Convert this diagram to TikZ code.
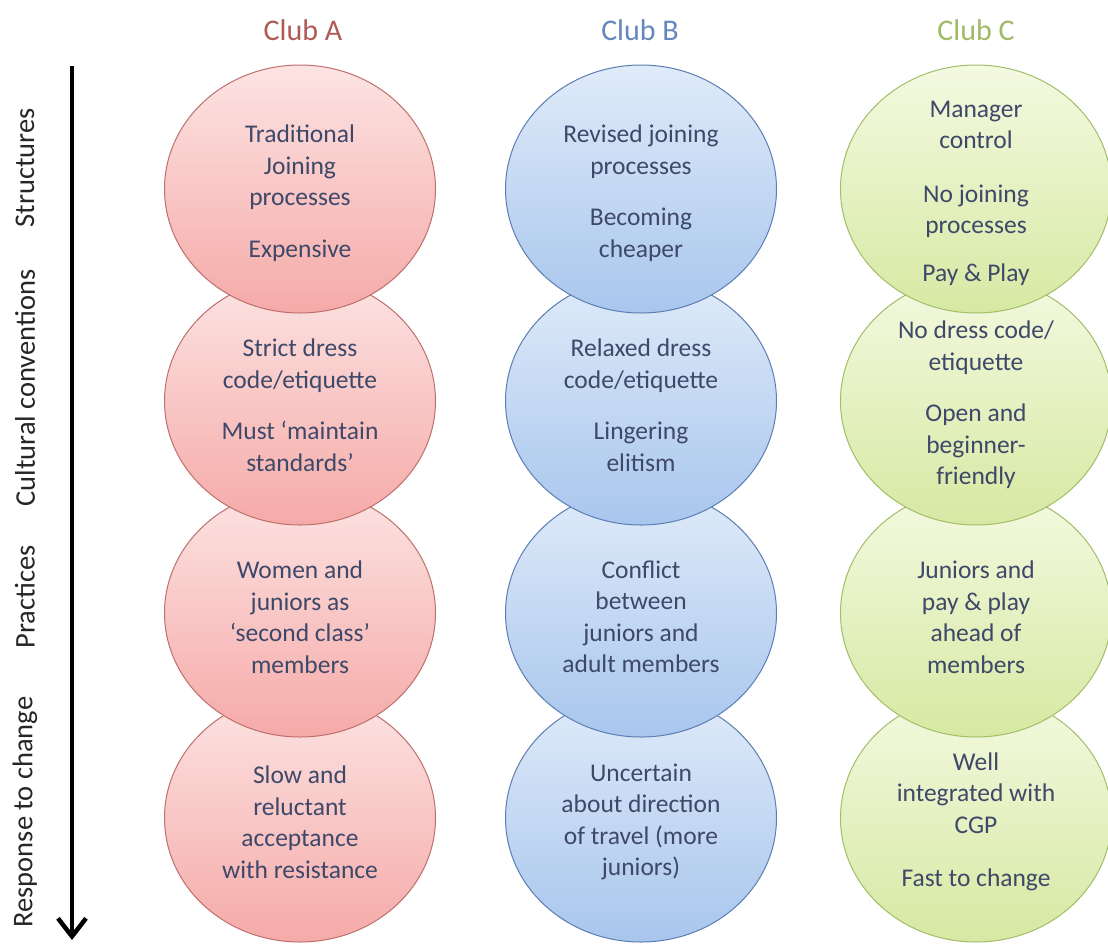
\documentclass[tikz,border=0pt]{standalone}
\usepackage{fontspec}
\setmainfont{Carlito}
\usetikzlibrary{shapes.geometric,arrows.meta}
\definecolor{txt}{RGB}{62,72,105}
\definecolor{redtop}{RGB}{252,228,227}
\definecolor{redbot}{RGB}{245,170,168}
\definecolor{redline}{RGB}{190,112,110}
\definecolor{bluetop}{RGB}{224,235,249}
\definecolor{bluebot}{RGB}{168,198,237}
\definecolor{blueline}{RGB}{92,126,180}
\definecolor{greentop}{RGB}{244,249,224}
\definecolor{greenbot}{RGB}{214,233,163}
\definecolor{greenline}{RGB}{162,190,104}
\definecolor{heada}{RGB}{176,90,88}
\definecolor{headb}{RGB}{100,135,190}
\definecolor{headc}{RGB}{160,186,102}
\begin{document}
\begin{tikzpicture}[x=1pt,y=-1pt,
  blob/.style={ellipse, minimum width=271pt, minimum height=248pt, inner sep=0pt, line width=1pt},
  redblob/.style={blob, draw=redline, top color=redtop, bottom color=redbot},
  blueblob/.style={blob, draw=blueline, top color=bluetop, bottom color=bluebot},
  greenblob/.style={blob, draw=greenline, top color=greentop, bottom color=greenbot},
  body/.style={align=center, text=txt, font=\fontsize{25.5}{31.5}\selectfont, inner sep=0pt, yshift=-4pt},
  head/.style={font=\fontsize{30}{36}\selectfont},
  side/.style={rotate=90, font=\fontsize{28.5}{34}\selectfont, text=black!85},
  axis/.style={line width=4.5pt, -{Straight Barb[length=18pt,width=28pt]}}
]
\useasboundingbox (0,0) rectangle (1108,943);
\fill[white] (0,0) rectangle (1108,943);

% headings
\node[head, text=heada] (ha) at (303,30) {Club A};
\node[head, text=headb] (hb) at (640,30) {Club B};
\node[head, text=headc] (hc) at (976,30) {Club C};

% side labels
\node[side] (s1) at (25,168) {Structures};
\node[side] (s2) at (25,388) {Cultural conventions};
\node[side] (s3) at (25,597) {Practices};
\node[side] (s4) at (25,812) {Response to change};

% axis arrow
\coordinate (atop) at (72,66);
\coordinate (abot) at (72,940);
\draw[axis] (atop) -- (abot);

% circles, bottom row first so upper rows overlap lower ones
\foreach \r/\y in {4/818,3/613,2/401,1/189}{
  \node[redblob] (a\r) at (300,\y) {};
  \node[blueblob] (b\r) at (641,\y) {};
  \node[greenblob] (c\r) at (976,\y) {};
}

% texts
\node[body] (ta1) at (a1) {Traditional\\Joining\\processes\\[20pt]Expensive};
\node[body] (ta2) at (a2) {Strict dress\\code/etiquette\\[20pt]Must ‘maintain\\standards’};
\node[body] (ta3) at (a3) {Women and\\juniors as\\‘second class’\\members};
\node[body] (ta4) at (a4) {Slow and\\reluctant\\acceptance\\with resistance};

\node[body] (tb1) at (b1) {Revised joining\\processes\\[20pt]Becoming\\cheaper};
\node[body] (tb2) at (b2) {Relaxed dress\\code/etiquette\\[20pt]Lingering\\elitism};
\node[body] (tb3) at (b3) {Conflict\\between\\juniors and\\adult members};
\node[body] (tb4) at (b4) {Uncertain\\about direction\\of travel (more\\juniors)};

\node[body] (tc1) at (c1) {Manager\\control\\[22pt]No joining\\processes\\[16pt]Pay \& Play};
\node[body] (tc2) at (c2) {No dress code/\\etiquette\\[20pt]Open and\\beginner-\\friendly};
\node[body] (tc3) at (c3) {Juniors and\\pay \& play\\ahead of\\members};
\node[body] (tc4) at (c4) {Well\\integrated with\\CGP\\[22pt]Fast to change};
\end{tikzpicture}
\end{document}
